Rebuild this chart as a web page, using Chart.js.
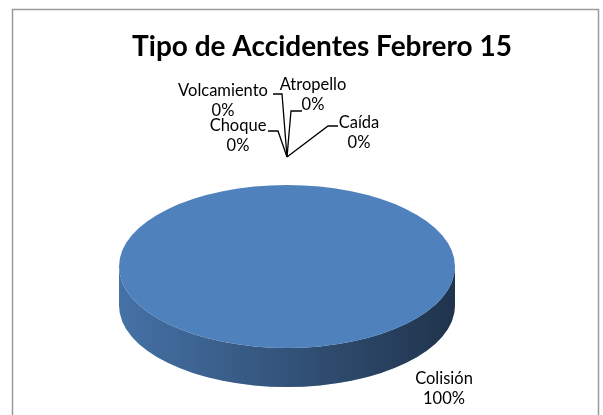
<!DOCTYPE html>
<html>
<head>
<meta charset="utf-8">
<script src="https://cdn.jsdelivr.net/npm/chart.js@4"></script>
<style>
  html, body { margin: 0; padding: 0; background: #fff; }
  #wrap { width: 603px; height: 415px; }
</style>
</head>
<body>
<div id="wrap"><canvas id="accidentes" width="603" height="415"></canvas></div>
<script>
const titulo = "Tipo de Accidentes Febrero 15"
const categorias = ["Colisión", "Choque", "Volcamiento", "Atropello", "Caída"]
const valores = [100, 0, 0, 0, 0]
const colores = ["#4F81BD", "#C0504D", "#9BBB59", "#8064A2", "#4BACC6"]

// where each label sits, relative to its slice's anchor on the rim
const labelPos = [
  { dx: 157, dy: 31, leader: null },
  { dx: -49, dy: -59, leader: [[-19, -54], [-9, -54], [0, -28]] },
  { dx: -64, dy: -94, leader: [[-14, -91], [-5, -91], [0, -28]] },
  { dx: 26, dy: -100, leader: [[15, -74], [4, -74], [0, -28]] },
  { dx: 72, dy: -62, leader: [[51, -59], [41, -59], [0, -28]] }
]

const tilt = 0.485
const shiftY = 58.5
const depth = 39
const labelFont = "16.5px Lato"

function geom(chart) {
  const el = chart.getDatasetMeta(0).data[0]
  const cx = el.x, cy = el.y, r = el.outerRadius
  return { cx, cy, r, ey: cy + shiftY, ry: r * tilt }
}

const pie3d = {
  id: "pie3d",
  beforeDraw(chart) {
    const ctx = chart.ctx
    ctx.save()
    ctx.strokeStyle = "#9a9a9a"
    ctx.lineWidth = 1.5
    ctx.strokeRect(12.5, 9.5, 586, 430)
    ctx.fillStyle = "#000"
    ctx.font = "bold 28px Lato"
    ctx.textAlign = "center"
    ctx.textBaseline = "alphabetic"
    ctx.fillText(titulo, 322, 56)
    ctx.restore()
  },
  beforeDatasetsDraw(chart) {
    const ctx = chart.ctx
    const g = geom(chart)
    const arcs = chart.getDatasetMeta(0).data
    ctx.save()
    arcs.forEach((a, i) => {
      if (valores[i] <= 0) return
      // front half only (0..PI in screen angles)
      let s = a.startAngle, e = a.endAngle
      const parts = []
      for (let k = -1; k <= 1; k++) {
        const lo = Math.max(s, 0 + k * 2 * Math.PI)
        const hi = Math.min(e, Math.PI + k * 2 * Math.PI)
        if (hi > lo) parts.push([lo, hi])
      }
      parts.forEach(([lo, hi]) => {
        ctx.beginPath()
        ctx.ellipse(g.cx, g.ey, g.r, g.ry, 0, lo, hi)
        ctx.ellipse(g.cx, g.ey + depth, g.r, g.ry, 0, hi, lo, true)
        ctx.closePath()
        ctx.fillStyle = colores[i]
        ctx.fill()
        const sh = ctx.createLinearGradient(g.cx - g.r, 0, g.cx + g.r, 0)
        sh.addColorStop(0, "rgba(0,0,0,0.12)")
        sh.addColorStop(0.5, "rgba(0,0,0,0.36)")
        sh.addColorStop(1, "rgba(0,0,0,0.6)")
        ctx.fillStyle = sh
        ctx.fill()
      })
    })
    ctx.restore()
    // flatten the circle into the top face
    ctx.save()
    ctx.translate(g.cx, g.ey)
    ctx.scale(1, tilt)
    ctx.translate(-g.cx, -g.cy)
  },
  afterDatasetsDraw(chart) {
    const ctx = chart.ctx
    ctx.restore()
    const g = geom(chart)
    const arcs = chart.getDatasetMeta(0).data
    const total = valores.reduce((s, v) => s + v, 0)
    ctx.save()
    ctx.fillStyle = "#000"
    ctx.strokeStyle = "#000"
    ctx.lineWidth = 1.3
    ctx.font = labelFont
    ctx.textAlign = "center"
    ctx.textBaseline = "middle"
    arcs.forEach((a, i) => {
      const mid = (a.startAngle + a.endAngle) / 2
      const ax = g.cx + g.r * Math.cos(mid)
      const ay = g.ey + g.ry * Math.sin(mid)
      const p = labelPos[i]
      const pct = Math.round(valores[i] / total * 100) + "%"
      ctx.fillText(categorias[i], ax + p.dx, ay + p.dy)
      ctx.fillText(pct, ax + p.dx, ay + p.dy + 20)
      if (p.leader) {
        ctx.beginPath()
        p.leader.forEach(([x, y], j) => {
          if (j == 0) ctx.moveTo(ax + x, ay + y)
          else ctx.lineTo(ax + x, ay + y)
        })
        ctx.stroke()
      }
    })
    ctx.restore()
  }
}

new Chart("accidentes", {
  type: "pie",
  data: {
    labels: categorias,
    datasets: [{
      data: valores,
      backgroundColor: colores,
      borderWidth: 0,
      clip: false
    }]
  },
  options: {
    responsive: false,
    animation: false,
    layout: { padding: { left: 119, right: 148, top: 40, bottom: 39 } },
    plugins: {
      legend: { display: false },
      tooltip: { enabled: false },
      title: { display: false }
    }
  },
  plugins: [pie3d]
})
</script>
</body>
</html>
